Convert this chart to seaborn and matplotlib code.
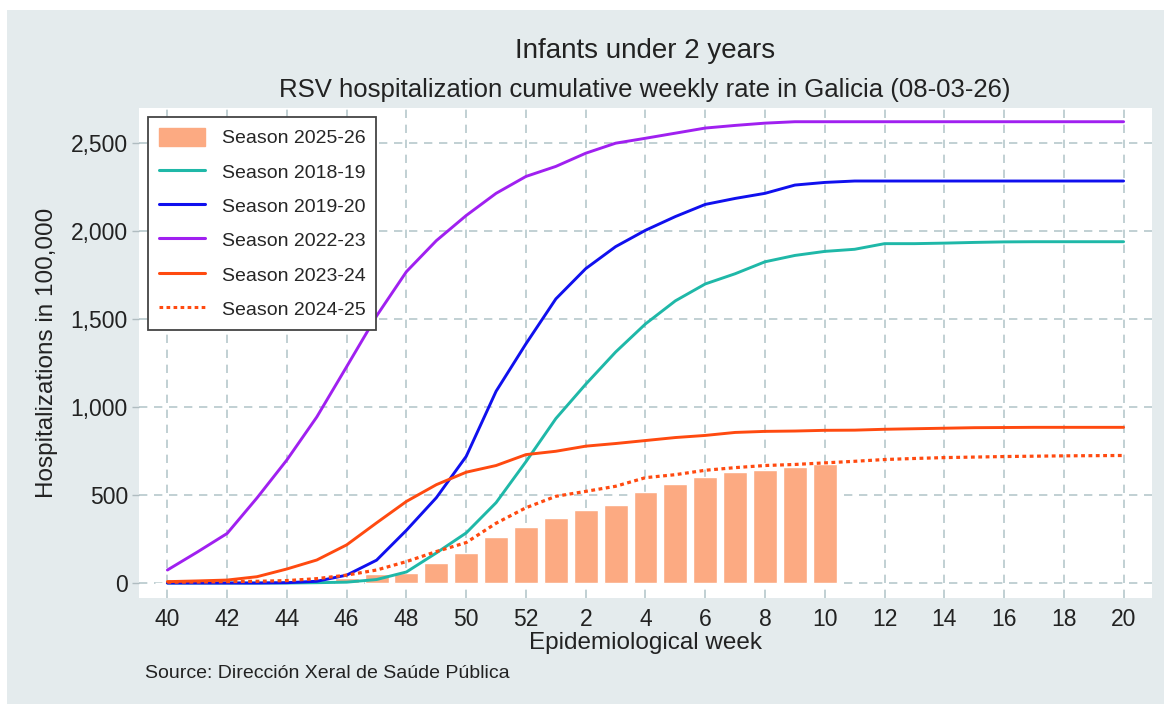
import matplotlib
matplotlib.use('Agg')
import numpy as np
import pandas as pd
import matplotlib.pyplot as plt
from matplotlib.patches import Rectangle, Patch
from matplotlib.lines import Line2D
import seaborn as sns

# Epidemiological weeks (season runs from week 40 to week 20)
weeks = [40, 41, 42, 43, 44, 45, 46, 47, 48, 49, 50, 51, 52,
         1, 2, 3, 4, 5, 6, 7, 8, 9, 10, 11, 12, 13, 14, 15, 16, 17, 18, 19, 20]

season_2018_19 = [0, 0, 0, 0, 0, 2, 5, 20, 63, 171, 285, 457, 690,
                  935, 1130, 1313, 1473, 1604, 1700, 1758, 1826, 1862, 1885, 1897, 1929,
                  1929, 1932, 1936, 1939, 1940, 1940, 1940, 1940]
season_2019_20 = [0, 0, 0, 0, 2, 10, 45, 130, 300, 485, 720, 1090, 1360,
                  1615, 1787, 1912, 2005, 2083, 2152, 2186, 2215, 2262, 2277, 2285, 2285,
                  2285, 2285, 2285, 2285, 2285, 2285, 2285, 2285]
season_2022_23 = [74, 176, 282, 484, 700, 944, 1230, 1518, 1770, 1946, 2089, 2215, 2311,
                  2368, 2443, 2500, 2528, 2557, 2586, 2601, 2614, 2622, 2622, 2622, 2622,
                  2622, 2622, 2622, 2622, 2622, 2622, 2622, 2622]
season_2023_24 = [8, 12, 17, 36, 80, 131, 217, 342, 464, 559, 630, 668, 730,
                  749, 778, 793, 810, 827, 839, 856, 862, 864, 868, 869, 874,
                  877, 880, 883, 884, 885, 885, 885, 885]
season_2024_25 = [5, 6, 8, 10, 14, 25, 45, 74, 122, 179, 230, 340, 428,
                  493, 521, 550, 599, 616, 641, 656, 668, 674, 683, 692, 702,
                  708, 713, 716, 719, 721, 723, 724, 725]
# current season, up to week 10
season_2025_26 = [2, 3, 4, 5, 6, 10, 30, 50, 59, 116, 173, 263, 321,
                  369, 417, 445, 518, 565, 603, 632, 645, 660, 679]

line_series = [
    ('Season 2018-19', season_2018_19, '#1fb8a8', '-'),
    ('Season 2019-20', season_2019_20, '#1010ee', '-'),
    ('Season 2022-23', season_2022_23, '#a020f0', '-'),
    ('Season 2023-24', season_2023_24, '#ff4a10', '-'),
    ('Season 2024-25', season_2024_25, '#ff4a10', ':'),
]
bar_color = '#fcaa82'
bg_color = '#e4ebed'
grid_color = '#b6c8cc'
text_color = '#222222'
dotted = (0, (1.2, 1.1))

sns.set_theme(style='white')
plt.rcParams['font.family'] = ['Liberation Sans', 'DejaVu Sans']

fig = plt.figure(figsize=(11.64, 7.04), dpi=100)
fig.patch.set_facecolor('white')
fig.add_artist(Rectangle((7 / 1164, 0), 1, 1 - 10 / 704, transform=fig.transFigure,
                         facecolor=bg_color, edgecolor='none', zorder=0))

ax = fig.add_axes([139 / 1164, 1 - 598 / 704, (1152 - 139) / 1164, (598 - 108) / 704])
ax.set_facecolor('white')

pos = np.arange(len(weeks))
bars = pd.DataFrame({'pos': pos[:len(season_2025_26)], 'rate': season_2025_26})
sns.barplot(data=bars, x='pos', y='rate', native_scale=True, color=bar_color,
            saturation=1, width=0.8, errorbar=None, ax=ax, zorder=2)

for name, vals, color, ls in line_series:
    df = pd.DataFrame({'pos': pos, 'rate': vals})
    if ls == ':':
        sns.lineplot(data=df, x='pos', y='rate', color=color, linewidth=2.3,
                     ax=ax, zorder=3, linestyle=dotted)
    else:
        sns.lineplot(data=df, x='pos', y='rate', color=color, linewidth=2.1,
                     ax=ax, zorder=3)

ax.set_xlim(-0.95, 32.95)
ax.set_ylim(-85, 2700)
ax.set_xticks(pos[::2])
ax.set_xticklabels([str(w) for w in weeks[::2]], fontsize=16.5, color=text_color)
ax.set_yticks([0, 500, 1000, 1500, 2000, 2500])
ax.set_yticklabels(['0', '500', '1,000', '1,500', '2,000', '2,500'], fontsize=16.5,
                   color=text_color)
ax.tick_params(axis='x', length=0, pad=7)
ax.tick_params(axis='y', length=5, width=1, color='#b0bcc0', pad=3, left=True)
ax.grid(True, color=grid_color, linestyle=(0, (5, 4)), linewidth=1.2, zorder=1)
ax.set_axisbelow(True)
for sp in ax.spines.values():
    sp.set_visible(False)

ax.set_xlabel('Epidemiological week', fontsize=17.5, color=text_color, labelpad=1)
ax.set_ylabel('Hospitalizations in 100,000', fontsize=17.5, color=text_color, labelpad=9)

handles = [Patch(facecolor=bar_color, edgecolor=bar_color, label='Season 2025-26')]
for name, vals, color, ls in line_series:
    handles.append(Line2D([0], [0], color=color, lw=2.2,
                          linestyle=dotted if ls == ':' else '-', label=name))
leg = ax.legend(handles=handles, loc='upper left', bbox_to_anchor=(0.009, 0.982),
                borderaxespad=0, fontsize=14, handlelength=2.4, handleheight=1.1,
                labelspacing=0.74, fancybox=False, framealpha=1, borderpad=0.55,
                handletextpad=0.85)
leg.get_frame().set_edgecolor('#444444')
leg.get_frame().set_linewidth(1.3)

fig.text(645 / 1164, 1 - 51 / 704, 'Infants under 2 years', ha='center', va='center',
         fontsize=20, color=text_color)
fig.text(645 / 1164, 1 - 90 / 704,
         'RSV hospitalization cumulative weekly rate in Galicia (08-03-26)',
         ha='center', va='center', fontsize=18.5, color=text_color)
fig.text(145 / 1164, 1 - 673 / 704, 'Source: Dirección Xeral de Saúde Pública',
         ha='left', va='center', fontsize=14, color=text_color)

fig.savefig('out.png', dpi=100, facecolor=fig.get_facecolor())
